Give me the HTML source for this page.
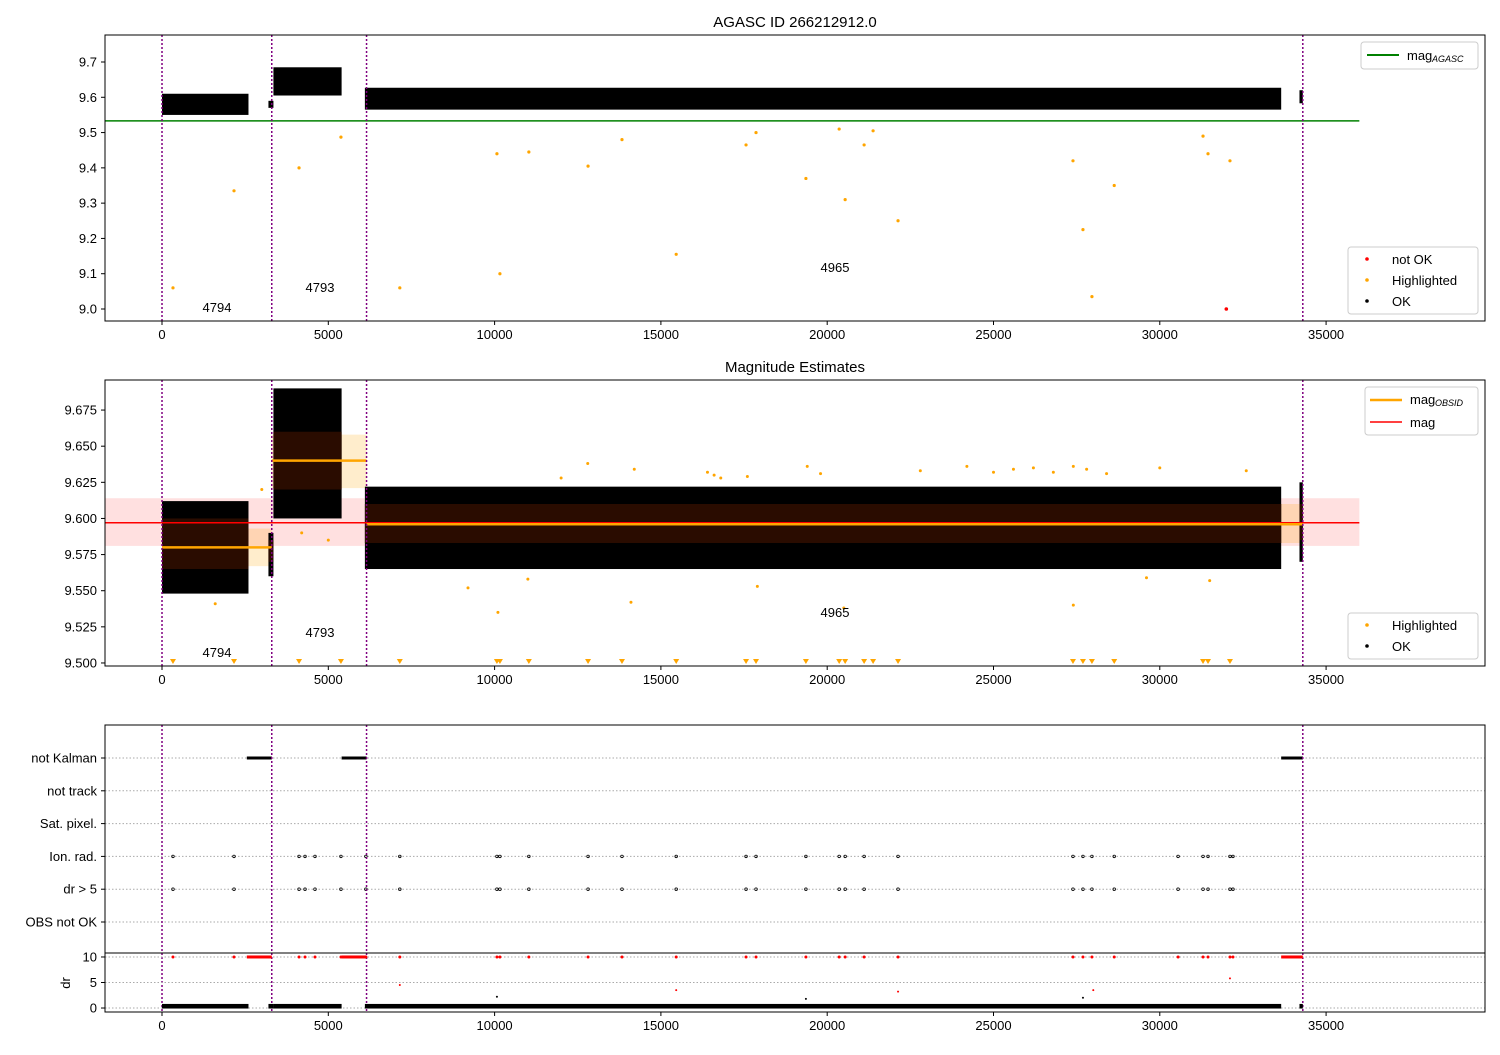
<!DOCTYPE html>
<html><head><meta charset="utf-8"><style>
body{margin:0;background:#fff}
svg text{font-family:"Liberation Sans",sans-serif;fill:#000}
</style></head><body>
<svg id="c" width="1500" height="1050" xmlns="http://www.w3.org/2000/svg"></svg>
<script>
const obsids=["4794","4793","4965"];
const obsStart=[0,3300,6150];
const obsEnd=[3300,6150,34300];
const obsMag=[9.580,9.640,9.596];
const obsLo=[9.567,9.621,9.583];
const obsHi=[9.593,9.658,9.610];
const magAll=9.597, magAllLo=9.581, magAllHi=9.614, magAgasc=9.533;
const cloudStart=[0,3200,3350,6100,34200];
const cloudEnd=[2600,3350,5400,33650,34300];
const cloud1Lo=[9.550,9.57,9.605,9.565,9.583];
const cloud1Hi=[9.610,9.59,9.685,9.627,9.62];
const cloud2Lo=[9.548,9.56,9.600,9.565,9.57];
const cloud2Hi=[9.612,9.59,9.69,9.622,9.625];
const core2Lo=[9.565,9.57,9.62,9.583,9.585];
const core2Hi=[9.600,9.585,9.66,9.610,9.61];
const outT=[330,2165,4120,5380,7150,10070,10160,11030,12810,13830,15460,17560,17860,19360,20360,20540,21110,21380,22130,27390,27690,27960,28630,31300,31450,32110];
const outMag=[9.06,9.335,9.40,9.487,9.06,9.44,9.10,9.445,9.405,9.48,9.155,9.465,9.50,9.37,9.51,9.31,9.465,9.505,9.25,9.42,9.225,9.035,9.35,9.49,9.44,9.42];
const notOkT=[32000], notOkMag=[9.0];
const hl2T=[12000,12800,14200,16400,16600,16800,17600,19400,19800,22800,24200,25000,25600,26200,26800,27400,27800,28400,30000,32600,9200,10100,11000,14100,17900,20500,27400,29600,31500,3000,1600,4200,5000];
const hl2Mag=[9.628,9.638,9.634,9.632,9.630,9.628,9.629,9.636,9.631,9.633,9.636,9.632,9.634,9.635,9.632,9.636,9.634,9.631,9.635,9.633,9.552,9.535,9.558,9.542,9.553,9.538,9.540,9.559,9.557,9.620,9.541,9.590,9.585];
const flagT=[330,2165,4120,4300,4600,5380,6130,7150,10070,10160,11030,12810,13830,15460,17560,17860,19360,20360,20540,21110,22130,27390,27690,27960,28630,30550,31300,31450,32110,32200];
const kalStart=[2550,5400,33650], kalEnd=[3300,6150,34300];
const drT=[7150,15460,22130,28000,32110,10070,19360,27690];
const drVal=[4.5,3.5,3.2,3.5,5.8,2.2,1.8,2.0];
const vlines=[0,3300,6150,34300];
const xticks=[0,5000,10000,15000,20000,25000,30000,35000];
const y1ticks=[9.0,9.1,9.2,9.3,9.4,9.5,9.6,9.7];
const y2ticks=[9.5,9.525,9.55,9.575,9.6,9.625,9.65,9.675];
const cats=["not Kalman","not track","Sat. pixel.","Ion. rad.","dr > 5","OBS not OK"];
const drTicks=[0,5,10];

const S=document.getElementById('c'),NS="http://www.w3.org/2000/svg";
function E(tag,a,txt,p){const e=document.createElementNS(NS,tag);for(const k in a)e.setAttribute(k,a[k]);if(txt!=null)e.textContent=txt;(p||S).appendChild(e);return e;}
const X0=105,X1=1485,xmin=-1714,xmax=39778;
const sx=t=>X0+(t-xmin)/(xmax-xmin)*(X1-X0);
function sy(p,v){return p.bot-(v-p.ymin)/(p.ymax-p.ymin)*(p.bot-p.top);}
const P1={top:35,bot:321,ymin:8.966,ymax:9.7765};
const P2={top:380,bot:666,ymin:9.4979,ymax:9.6958};
const P3={top:725,bot:953};
const PD={top:953,bot:1012,ymin:-0.78,ymax:10.78};

function xaxis(bot,g){xticks.forEach(t=>{const x=sx(t);E('line',{x1:x,x2:x,y1:bot,y2:bot+4,stroke:'#000'},null,g);E('text',{x:x,y:bot+18,'text-anchor':'middle','font-size':13},t,g);});}
function yaxis(p,ticks,fmt,g){ticks.forEach(v=>{const y=sy(p,v);E('line',{x1:X0-4,x2:X0,y1:y,y2:y,stroke:'#000'},null,g);E('text',{x:X0-8,y:y+4.5,'text-anchor':'end','font-size':13},fmt(v),g);});}
function vl(top,bot,g){vlines.forEach(t=>E('line',{x1:sx(t),x2:sx(t),y1:top,y2:bot,stroke:'#800080','stroke-width':1.5,'stroke-dasharray':'2,2'},null,g));}
function frame(top,bot,g){E('rect',{x:X0,y:top,width:X1-X0,height:bot-top,fill:'none',stroke:'#000'},null,g);}

// ---------- Panel 1
const g1=E('g',{});
E('text',{x:795,y:27,'text-anchor':'middle','font-size':15},'AGASC ID 266212912.0',g1);
E('line',{x1:X0,x2:sx(36000),y1:sy(P1,magAgasc),y2:sy(P1,magAgasc),stroke:'green','stroke-width':1.5,},null,g1);
cloudStart.forEach((s,i)=>{const r=E('rect',{x:sx(s),y:sy(P1,cloud1Hi[i]),width:sx(cloudEnd[i])-sx(s),height:sy(P1,cloud1Lo[i])-sy(P1,cloud1Hi[i]),fill:'#000'},null,g1);});
outT.forEach((t,i)=>{const c=E('circle',{cx:sx(t),cy:sy(P1,outMag[i]),r:1.6,fill:'orange'},null,g1);});
notOkT.forEach((t,i)=>{const c=E('circle',{cx:sx(t),cy:sy(P1,notOkMag[i]),r:1.8,fill:'red'},null,g1);});
vl(P1.top,P1.bot,g1);
[[217,307],[320,287],[835,267]].forEach((p,i)=>E('text',{x:p[0],y:p[1]+5,'text-anchor':'middle','font-size':13},obsids[i],g1));
frame(P1.top,P1.bot,g1);xaxis(P1.bot,g1);yaxis(P1,y1ticks,v=>v.toFixed(1),g1);
function legendBox(x,y,w,h,g,name){E('rect',{x:x,y:y,width:w,height:h,rx:3,fill:'#fff',stroke:'#ccc','fill-opacity':0.85,},null,g);}
legendBox(1361,42,117,27,g1,'legend-agasc');
E('line',{x1:1367,x2:1399,y1:55,y2:55,stroke:'green','stroke-width':2},null,g1);
E('text',{x:1407,y:60,'font-size':13},'mag',g1);E('text',{x:1432,y:62,'font-size':9,'font-style':'italic'},'AGASC',g1);
legendBox(1348,247,130,67,g1,'legend-status');
[['red','not OK',259],['orange','Highlighted',280],['#000','OK',301]].forEach(a=>{E('circle',{cx:1367,cy:a[2],r:1.8,fill:a[0]},null,g1);E('text',{x:1392,y:a[2]+5,'font-size':13},a[1],g1);});

// ---------- Panel 2
const g2=E('g',{});
E('text',{x:795,y:372,'text-anchor':'middle','font-size':15},'Magnitude Estimates',g2);
E('rect',{x:X0,y:sy(P2,magAllHi),width:sx(36000)-X0,height:sy(P2,magAllLo)-sy(P2,magAllHi),fill:'red','fill-opacity':0.12},null,g2);
obsStart.forEach((s,i)=>E('rect',{x:sx(s),y:sy(P2,obsHi[i]),width:sx(obsEnd[i])-sx(s),height:sy(P2,obsLo[i])-sy(P2,obsHi[i]),fill:'orange','fill-opacity':0.2},null,g2));
hl2T.forEach((t,i)=>{const c=E('circle',{cx:sx(t),cy:sy(P2,hl2Mag[i]),r:1.5,fill:'orange'},null,g2);});
cloudStart.forEach((s,i)=>{const r=E('rect',{x:sx(s),y:sy(P2,cloud2Hi[i]),width:sx(cloudEnd[i])-sx(s),height:sy(P2,cloud2Lo[i])-sy(P2,cloud2Hi[i]),fill:'#000'},null,g2);
 E('rect',{x:sx(s),y:sy(P2,core2Hi[i]),width:sx(cloudEnd[i])-sx(s),height:sy(P2,core2Lo[i])-sy(P2,core2Hi[i]),fill:'#2a0c00'},null,g2);});
E('line',{x1:X0,x2:sx(36000),y1:sy(P2,magAll),y2:sy(P2,magAll),stroke:'red','stroke-width':1.5,},null,g2);
obsStart.forEach((s,i)=>{const l=E('line',{x1:sx(s),x2:sx(obsEnd[i]),y1:sy(P2,obsMag[i]),y2:sy(P2,obsMag[i]),stroke:'orange','stroke-width':2.5},null,g2);});
outT.forEach(t=>{const x=sx(t),y=P2.bot-4;const p=E('path',{d:`M${x-3},${y-3}L${x+3},${y-3}L${x},${y+2}Z`,fill:'orange'},null,g2);});
vl(P2.top,P2.bot,g2);
[[217,652],[320,632],[835,612]].forEach((p,i)=>E('text',{x:p[0],y:p[1]+5,'text-anchor':'middle','font-size':13},obsids[i],g2));
frame(P2.top,P2.bot,g2);xaxis(P2.bot,g2);yaxis(P2,y2ticks,v=>v.toFixed(3),g2);
legendBox(1365,387,113,48,g2,'legend-mag');
E('line',{x1:1370,x2:1402,y1:400,y2:400,stroke:'orange','stroke-width':2.5},null,g2);
E('text',{x:1410,y:404,'font-size':13},'mag',g2);E('text',{x:1435,y:406,'font-size':9,'font-style':'italic'},'OBSID',g2);
E('line',{x1:1370,x2:1402,y1:422,y2:422,stroke:'red','stroke-width':1.5},null,g2);
E('text',{x:1410,y:427,'font-size':13},'mag',g2);
legendBox(1348,613,130,46,g2,'legend-points');
[['orange','Highlighted',625],['#000','OK',646]].forEach(a=>{E('circle',{cx:1367,cy:a[2],r:1.8,fill:a[0]},null,g2);E('text',{x:1392,y:a[2]+5,'font-size':13},a[1],g2);});

// ---------- Panel 3
const g3=E('g',{});
const catY=i=>758+i*32.8;
cats.forEach((c,i)=>{const y=catY(i);E('line',{x1:X0,x2:X1,y1:y,y2:y,stroke:'#aaa','stroke-dasharray':'1.5,2'},null,g3);E('line',{x1:X0-4,x2:X0,y1:y,y2:y,stroke:'#000'},null,g3);E('text',{x:X0-8,y:y+4.5,'text-anchor':'end','font-size':13},c,g3);});
kalStart.forEach((s,i)=>{const r=E('rect',{x:sx(s),y:catY(0)-1.5,width:sx(kalEnd[i])-sx(s),height:3,fill:'#000'},null,g3);});
flagT.forEach(t=>{[3,4].forEach(k=>{const c=E('circle',{cx:sx(t),cy:catY(k),r:1.3,fill:'none',stroke:'#000','stroke-width':0.8},null,g3);});});
vl(P3.top,1012,g3);
frame(P3.top,P3.bot,g3);
const gd=E('g',{});
[0,5,10].forEach(v=>E('line',{x1:X0,x2:X1,y1:sy(PD,v),y2:sy(PD,v),stroke:'#aaa','stroke-dasharray':'1.5,2'},null,gd));
cloudStart.forEach((s,i)=>E('rect',{x:sx(s),y:sy(PD,0.8),width:sx(cloudEnd[i])-sx(s),height:sy(PD,-0.1)-sy(PD,0.8),fill:'#000'},null,gd));
kalStart.forEach((s,i)=>E('rect',{x:sx(s),y:sy(PD,10)-1.5,width:sx(kalEnd[i])-sx(s),height:3,fill:'red'},null,gd));
flagT.forEach(t=>{const c=E('circle',{cx:sx(t),cy:sy(PD,10),r:1.5,fill:'red'},null,gd);});
drT.forEach((t,i)=>{const c=E('circle',{cx:sx(t),cy:sy(PD,drVal[i]),r:1,fill:i<5?'red':'#000'},null,gd);});
frame(PD.top,PD.bot,gd);xaxis(PD.bot,gd);yaxis(PD,drTicks,v=>v,gd);
E('text',{x:70,y:983,'text-anchor':'middle','font-size':13,transform:'rotate(-90 70 983)'},'dr',gd);
</script>
</body></html>
